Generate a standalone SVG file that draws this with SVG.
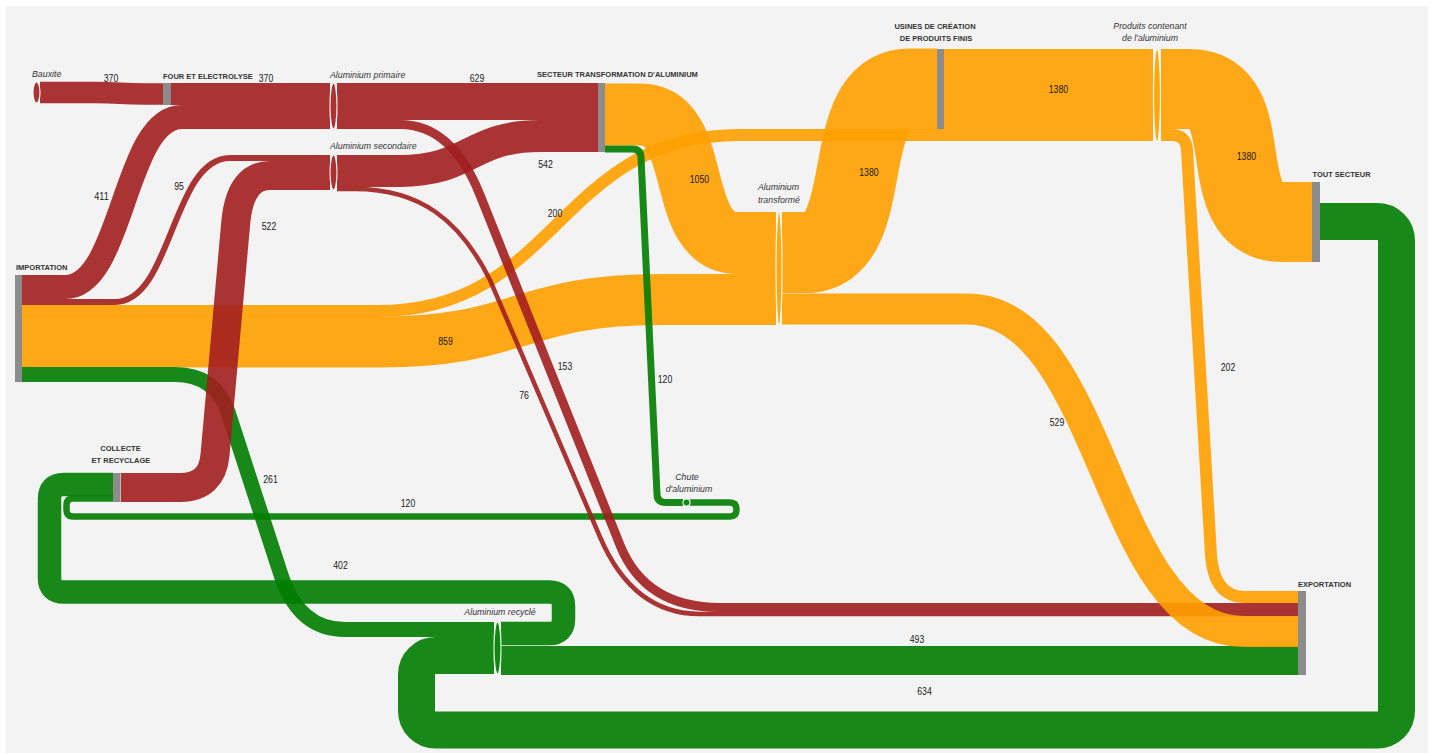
<svg xmlns="http://www.w3.org/2000/svg" width="1433" height="753" viewBox="0 0 1433 753">
<style>
.lk{fill:none;stroke-opacity:0.9}
.r{stroke:#a21e1e}
.o{stroke:#ffa000}
.g{stroke:#007d00}
.bar{fill:#8c8c8c}
.el{stroke:#ffffff;stroke-width:1.2;stroke-opacity:0.85}
.er{fill:#aa3232}
.eo{fill:#fea811}
.eg{fill:#108810}
.cap{font-family:"Liberation Sans",Arial,sans-serif;font-weight:bold;font-size:7.5px;fill:#333}
.it{font-family:"Liberation Sans",Arial,sans-serif;font-style:italic;font-size:8.8px;fill:#333}
.num{font-family:"Liberation Sans",Arial,sans-serif;font-size:10.5px;fill:#1a1a1a;text-anchor:middle}
</style>
<rect x="0" y="0" width="1433" height="753" fill="#ffffff"/>
<rect x="5.5" y="6" width="1422.5" height="747" fill="#f3f3f3"/>

<g id="links">
  <path class="lk r" stroke-width="21.5" d="M40,92.5 H95 C120,92.5 120,94 145,94 H163"/>
  <path class="lk r" stroke-width="22" d="M171,94 H330"/>
  <path class="lk r" stroke-width="37" d="M337,101.5 H598"/>
  <path class="lk o" stroke-width="12" d="M22,311 H378 C558,311 558,135 739,135 H1153"/>
  <path class="lk o" stroke-width="51" d="M22,342 H380 C520,342 520,299.5 660,299.5 H776"/>
  <path class="lk o" stroke-width="62" d="M605,114.5 H640 C705,114.5 673,243 738,243 H776"/>
  <path class="lk o" stroke-width="81" d="M782,252.5 H805 C880,252.5 835,89 910,89 H937"/>
  <path class="lk o" stroke-width="80" d="M944,89 H1153"/>
  <path class="lk o" stroke-width="80" d="M1161,89 H1190 C1262,89 1210,222 1282,222 H1312"/>
  <path class="lk o" stroke-width="12" d="M1161,135 H1172 Q1186,135 1187,150 L1211,555 Q1214,597 1245,597 H1298"/>
  <path class="lk g" stroke-width="15" d="M22,374.5 H175 Q215,374.5 228,412 L282,578 Q300,629.5 345,629.5 H494"/>
  <path class="lk g" stroke-width="23.5" d="M113,484.5 H64 Q49.5,484.5 49.5,499 V578 Q49.5,592 64,592 H549 Q563.5,592 563.5,606 V619 Q563.5,633.5 549,633.5 H501"/>
  <path class="lk g" stroke-width="7" d="M605,149 H632 Q641,149 641,158 L657,494 Q657,502.5 666,502.5 H683"/>
  <path class="lk g" stroke-width="6.5" d="M690,502.5 H730 Q736.5,502.5 736.5,509.5 Q736.5,516.5 730,516.5 H73 Q66.5,516.5 66.5,510 V505 Q66.5,498.5 73,498.5 H113"/>
  <path class="lk g" stroke-width="37" d="M1320,221.5 H1377.5 A19,19 0 0 1 1396.5,240.5 V711 A19,19 0 0 1 1377.5,730 H435.5 A19,19 0 0 1 416.5,711 V674.5 A19,19 0 0 1 435.5,655.5 H494"/>
  <path class="lk g" stroke-width="29" d="M501,660.5 H1298"/>
  <path class="lk r" stroke-width="24" d="M22,287 H65 C123.5,287 123.5,117 182,117 H330"/>
  <path class="lk r" stroke-width="6" d="M22,302 H115 C172,302 172,158 230,158 H330"/>
  <path class="lk r" stroke-width="29" d="M121,487.5 H180 Q212,487.5 215,455 L236,220 Q241,175.5 270,175.5 H330"/>
  <path class="lk r" stroke-width="32" d="M337,171 H400 C470,171 470,136 540,136 H598"/>
  <path class="lk r" stroke-width="9" d="M337,124.5 H400 Q452,124.5 480,195 L620,545 Q645,607.5 720,607.5 H1298"/>
  <path class="lk r" stroke-width="4.5" d="M337,189 H355 C420,189 460,220 490,280 L600,537 Q633,614 700,614 H1298"/>
  <path class="lk o" stroke-width="31" d="M782,309 H967 C1105,309 1105,631.5 1243,631.5 H1298"/>
</g>

<g id="link-labels">
  <text class="num" x="111" y="82" textLength="14.5" lengthAdjust="spacingAndGlyphs">370</text>
  <text class="num" x="266" y="82" textLength="14.5" lengthAdjust="spacingAndGlyphs">370</text>
  <text class="num" x="477" y="82" textLength="14.5" lengthAdjust="spacingAndGlyphs">629</text>
  <text class="num" x="101.5" y="200" textLength="14.5" lengthAdjust="spacingAndGlyphs">411</text>
  <text class="num" x="179" y="190" textLength="9.7" lengthAdjust="spacingAndGlyphs">95</text>
  <text class="num" x="269" y="230" textLength="14.5" lengthAdjust="spacingAndGlyphs">522</text>
  <text class="num" x="545.5" y="168" textLength="14.5" lengthAdjust="spacingAndGlyphs">542</text>
  <text class="num" x="555" y="217" textLength="14.5" lengthAdjust="spacingAndGlyphs">200</text>
  <text class="num" x="699.5" y="183" textLength="19.5" lengthAdjust="spacingAndGlyphs">1050</text>
  <text class="num" x="869" y="175.5" textLength="19.5" lengthAdjust="spacingAndGlyphs">1380</text>
  <text class="num" x="1058.5" y="93" textLength="19.5" lengthAdjust="spacingAndGlyphs">1380</text>
  <text class="num" x="1246.5" y="160" textLength="19.5" lengthAdjust="spacingAndGlyphs">1380</text>
  <text class="num" x="445.5" y="345" textLength="14.5" lengthAdjust="spacingAndGlyphs">859</text>
  <text class="num" x="565" y="370" textLength="14.5" lengthAdjust="spacingAndGlyphs">153</text>
  <text class="num" x="524" y="399" textLength="9.7" lengthAdjust="spacingAndGlyphs">76</text>
  <text class="num" x="665" y="383" textLength="14.5" lengthAdjust="spacingAndGlyphs">120</text>
  <text class="num" x="1228" y="371" textLength="14.5" lengthAdjust="spacingAndGlyphs">202</text>
  <text class="num" x="1057" y="426" textLength="14.5" lengthAdjust="spacingAndGlyphs">529</text>
  <text class="num" x="270.5" y="483" textLength="14.5" lengthAdjust="spacingAndGlyphs">261</text>
  <text class="num" x="408" y="507" textLength="14.5" lengthAdjust="spacingAndGlyphs">120</text>
  <text class="num" x="340.5" y="569" textLength="14.5" lengthAdjust="spacingAndGlyphs">402</text>
  <text class="num" x="917" y="643" textLength="14.5" lengthAdjust="spacingAndGlyphs">493</text>
  <text class="num" x="924.5" y="695" textLength="14.5" lengthAdjust="spacingAndGlyphs">634</text>
</g>

<g id="n-bauxite">
  <ellipse class="el er" cx="36.5" cy="92.5" rx="3.5" ry="10.5"/>
  <text class="it" x="32" y="77">Bauxite</text>
</g>
<g id="n-four">
  <rect class="bar" x="163" y="83" width="8" height="22"/>
  <text class="cap" x="163" y="78.5">FOUR ET ELECTROLYSE</text>
</g>
<g id="n-importation">
  <rect class="bar" x="15" y="275" width="7" height="107"/>
  <text class="cap" x="16" y="270">IMPORTATION</text>
</g>
<g id="n-primaire">
  <ellipse class="el er" cx="333.5" cy="106" rx="3.5" ry="23"/>
  <text class="it" x="330" y="77.5">Aluminium primaire</text>
</g>
<g id="n-secondaire">
  <ellipse class="el er" cx="333.5" cy="172.5" rx="3.5" ry="17.5"/>
  <text class="it" x="330" y="149">Aluminium secondaire</text>
</g>
<g id="n-collecte">
  <rect class="bar" x="113" y="473" width="7.5" height="29"/>
  <text class="cap" x="120.5" y="451" text-anchor="middle">COLLECTE</text>
  <text class="cap" x="121" y="463" text-anchor="middle">ET RECYCLAGE</text>
</g>
<g id="n-secteur">
  <rect class="bar" x="598" y="83" width="7" height="69"/>
  <text class="cap" x="537" y="77">SECTEUR TRANSFORMATION D'ALUMINIUM</text>
</g>
<g id="n-chute">
  <ellipse class="el eg" cx="686.5" cy="502.5" rx="3.5" ry="3.5"/>
  <text class="it" x="687" y="480" text-anchor="middle">Chute</text>
  <text class="it" x="689" y="491.5" text-anchor="middle">d'aluminium</text>
</g>
<g id="n-transforme">
  <ellipse class="el eo" cx="779" cy="268.5" rx="3" ry="56.5"/>
  <text class="it" x="778.5" y="190" text-anchor="middle">Aluminium</text>
  <text class="it" x="779" y="202.5" text-anchor="middle">transformé</text>
</g>
<g id="n-usines">
  <rect class="bar" x="937" y="49" width="7" height="80"/>
  <text class="cap" x="935" y="28.5" text-anchor="middle">USINES DE CRÉATION</text>
  <text class="cap" x="936" y="40.5" text-anchor="middle">DE PRODUITS FINIS</text>
</g>
<g id="n-produits">
  <ellipse class="el eo" cx="1157" cy="95.5" rx="3.5" ry="46.5"/>
  <text class="it" x="1150" y="28.5" text-anchor="middle">Produits contenant</text>
  <text class="it" x="1150" y="40.5" text-anchor="middle">de l'aluminium</text>
</g>
<g id="n-tout-secteur">
  <rect class="bar" x="1312" y="182" width="8" height="80"/>
  <text class="cap" x="1312.5" y="177">TOUT SECTEUR</text>
</g>
<g id="n-recycle">
  <ellipse class="el eg" cx="497.5" cy="648" rx="3.5" ry="26"/>
  <text class="it" x="500" y="615" text-anchor="middle">Aluminium recyclé</text>
</g>
<g id="n-exportation">
  <rect class="bar" x="1298" y="591" width="8" height="84"/>
  <text class="cap" x="1298" y="586.5">EXPORTATION</text>
</g>
</svg>
